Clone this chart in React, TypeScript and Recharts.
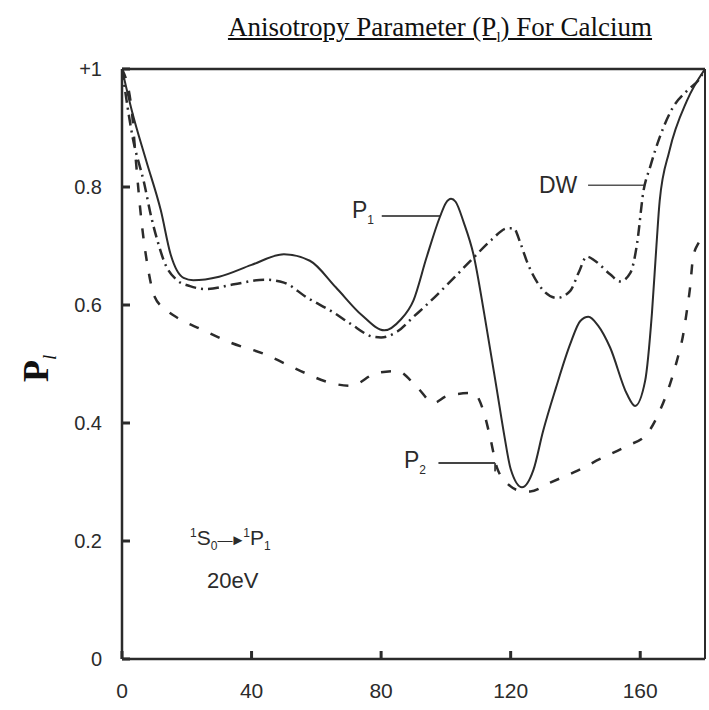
import React from "react"
import { LineChart, Line, XAxis, YAxis, ReferenceLine } from "recharts"

// scattering angle (deg) vs anisotropy parameter
const p1Angle = [0, 3, 7.5, 12, 15, 19, 22, 30, 40, 50, 58, 66, 74, 81, 86, 90, 94, 98.2, 100, 101.6, 103, 105.5, 108.5, 112, 115.8, 118, 120, 123.5, 127, 130, 134, 138.4, 141.5, 144, 147, 150.7, 155.9, 158.4, 161.5, 163.6, 165, 166, 169, 174.4, 180]
const p1Value = [1.0, 0.93, 0.844, 0.76, 0.686, 0.646, 0.642, 0.648, 0.668, 0.686, 0.675, 0.63, 0.583, 0.557, 0.575, 0.608, 0.68, 0.75, 0.773, 0.78, 0.775, 0.74, 0.686, 0.58, 0.454, 0.38, 0.322, 0.291, 0.32, 0.386, 0.46, 0.534, 0.573, 0.58, 0.565, 0.528, 0.449, 0.429, 0.471, 0.585, 0.7, 0.776, 0.861, 0.946, 1.0]

const dwAngle = [0, 3.3, 6.9, 9, 11, 13, 17, 21, 26, 34.6, 44, 50, 57, 65.4, 70.6, 77.7, 80, 85, 90, 94.2, 101.4, 108.5, 114, 119, 120.9, 123, 125, 130.2, 134.3, 138.4, 141, 143.5, 146, 150.7, 153.8, 157, 159, 161, 163, 166, 170, 174.4, 178.5, 180]
const dwValue = [1.0, 0.884, 0.805, 0.75, 0.708, 0.674, 0.642, 0.632, 0.627, 0.635, 0.643, 0.638, 0.613, 0.587, 0.568, 0.546, 0.545, 0.555, 0.58, 0.601, 0.64, 0.68, 0.71, 0.73, 0.73, 0.705, 0.674, 0.624, 0.612, 0.624, 0.655, 0.682, 0.675, 0.652, 0.64, 0.655, 0.703, 0.793, 0.833, 0.884, 0.934, 0.963, 0.985, 1.0]

const p2Angle = [0, 3, 4.3, 5.9, 8, 10, 14, 17.2, 24.4, 33.6, 43.9, 55.2, 64.4, 70.6, 78.8, 85, 91.2, 96.2, 100, 103.5, 108.5, 111.6, 113.7, 115.8, 119.9, 123, 126, 132.2, 140.5, 147.6, 155.9, 162, 166, 169.2, 171.3, 173.3, 174.4, 175.4, 176.3, 178, 180]
const p2Value = [1.0, 0.93, 0.844, 0.748, 0.663, 0.615, 0.59, 0.578, 0.559, 0.536, 0.517, 0.488, 0.468, 0.463, 0.485, 0.488, 0.46, 0.434, 0.445, 0.449, 0.451, 0.42, 0.375, 0.324, 0.293, 0.285, 0.284, 0.299, 0.319, 0.339, 0.361, 0.381, 0.42, 0.466, 0.505, 0.551, 0.59, 0.63, 0.68, 0.705, 0.72]

const xTicks = [0, 40, 80, 120, 160]
const yTicks = [0, 0.2, 0.4, 0.6, 0.8, 1]
const yTickLabels = ["0", "0.2", "0.4", "0.6", "0.8", "+1"]

const toPoints = (xs: number[], ys: number[]) => xs.map((x, i) => ({ x, y: ys[i] }))

const p1Data = toPoints(p1Angle, p1Value)
const dwData = toPoints(dwAngle, dwValue)
const p2Data = toPoints(p2Angle, p2Value)

const ink = "#2b2b2b"
const sans = "'Liberation Sans', Arial, sans-serif"
const serif = "'Liberation Serif', 'Times New Roman', serif"

function YTick(props: any) {
	const { x, y, payload } = props
	const i = yTicks.indexOf(payload.value)
	return (
		<g>
			<line x1={x} x2={x + 8} y1={y} y2={y} stroke={ink} strokeWidth={3} />
			<text x={x - 20} y={y + 7} textAnchor="end" fontSize={20} fontFamily={sans} fill={ink}>
				{i >= 0 ? yTickLabels[i] : payload.value}
			</text>
		</g>
	)
}

function XTick(props: any) {
	const { x, y, payload } = props
	return (
		<g>
			<line x1={x} x2={x} y1={y} y2={y - 8} stroke={ink} strokeWidth={3} />
			<text x={x} y={y + 39} textAnchor="middle" fontSize={21} fontFamily={sans} fill={ink}>
				{payload.value}
			</text>
		</g>
	)
}

export default function App() {
	return (
		<div style={{ position: "absolute", left: 0, top: 0, width: 709, height: 710, background: "#fff" }}>
			<div
				style={{
					position: "absolute",
					left: 0,
					top: 12,
					width: 880,
					textAlign: "center",
					fontFamily: serif,
					fontSize: 27,
					color: "#111",
					textDecoration: "underline",
					whiteSpace: "nowrap",
				}}
			>
				Anisotropy Parameter (P<sub style={{ fontSize: 15 }}>l</sub>) For Calcium
			</div>

			<LineChart
				width={709}
				height={710}
				margin={{ top: 69, right: 4, bottom: 21, left: 0 }}
			>
				<XAxis
					type="number"
					dataKey="x"
					domain={[0, 180]}
					ticks={xTicks}
					allowDataOverflow
					height={30}
					tickSize={0}
					tickMargin={0}
					tickLine={false}
					tick={<XTick />}
					axisLine={{ stroke: ink, strokeWidth: 2.5 }}
				/>
				<YAxis
					type="number"
					dataKey="y"
					domain={[0, 1]}
					ticks={yTicks}
					allowDataOverflow
					width={122}
					tickSize={0}
					tickMargin={0}
					tickLine={false}
					tick={<YTick />}
					axisLine={{ stroke: ink, strokeWidth: 2.5 }}
				/>
				<ReferenceLine y={1} stroke={ink} strokeWidth={2.5} />
				<ReferenceLine x={180} stroke={ink} strokeWidth={2} />

				<ReferenceLine segment={[{ x: 80.2, y: 0.751 }, { x: 98.2, y: 0.751 }]} stroke="#555" strokeWidth={2} />
				<ReferenceLine segment={[{ x: 97.7, y: 0.332 }, { x: 115.2, y: 0.332 }]} stroke="#444" strokeWidth={2} />
				<ReferenceLine segment={[{ x: 115.2, y: 0.332 }, { x: 115.2, y: 0.318 }]} stroke="#444" strokeWidth={2} />
				<ReferenceLine segment={[{ x: 143.9, y: 0.803 }, { x: 161.5, y: 0.803 }]} stroke="#555" strokeWidth={1.5} />

				<Line
					data={p2Data}
					dataKey="y"
					type="monotone"
					stroke={ink}
					strokeWidth={2.5}
					strokeDasharray="10 13"
					dot={false}
					isAnimationActive={false}
				/>
				<Line
					data={dwData}
					dataKey="y"
					type="monotone"
					stroke={ink}
					strokeWidth={2.5}
					strokeDasharray="11 5 2 5"
					dot={false}
					isAnimationActive={false}
				/>
				<Line
					data={p1Data}
					dataKey="y"
					type="monotone"
					stroke={ink}
					strokeWidth={2}
					dot={false}
					isAnimationActive={false}
				/>
			</LineChart>

			{/* axis title */}
			<div
				style={{
					position: "absolute",
					left: 18,
					top: 348,
					transform: "rotate(-90deg)",
					transformOrigin: "left top",
					fontFamily: serif,
					fontSize: 36,
					fontWeight: "bold",
					color: "#111",
					lineHeight: 1,
					whiteSpace: "nowrap",
				}}
			>
				<span style={{ position: "absolute", left: -34, top: 0 }}>
					P<sub style={{ fontSize: 19, fontStyle: "italic", fontWeight: "normal" }}>l</sub>
				</span>
			</div>

			{/* curve labels */}
			<div style={{ position: "absolute", left: 352, top: 197, fontFamily: sans, fontSize: 23, color: ink }}>
				P<sub style={{ fontSize: 12 }}>1</sub>
			</div>
			<div style={{ position: "absolute", left: 404, top: 447, fontFamily: sans, fontSize: 23, color: ink }}>
				P<sub style={{ fontSize: 12 }}>2</sub>
			</div>
			<div style={{ position: "absolute", left: 539, top: 172, fontFamily: sans, fontSize: 23, color: ink }}>
				DW
			</div>
			<div style={{ position: "absolute", left: 190, top: 526, fontFamily: sans, fontSize: 21, color: ink, whiteSpace: "nowrap" }}>
				<sup style={{ fontSize: 12 }}>1</sup>S<sub style={{ fontSize: 12 }}>0</sub>
				<span style={{ fontSize: 15, letterSpacing: -2 }}>—►</span>
				<sup style={{ fontSize: 12 }}>1</sup>P<sub style={{ fontSize: 12 }}>1</sub>
			</div>
			<div style={{ position: "absolute", left: 207, top: 568, fontFamily: sans, fontSize: 22, color: ink }}>
				20eV
			</div>
		</div>
	)
}
